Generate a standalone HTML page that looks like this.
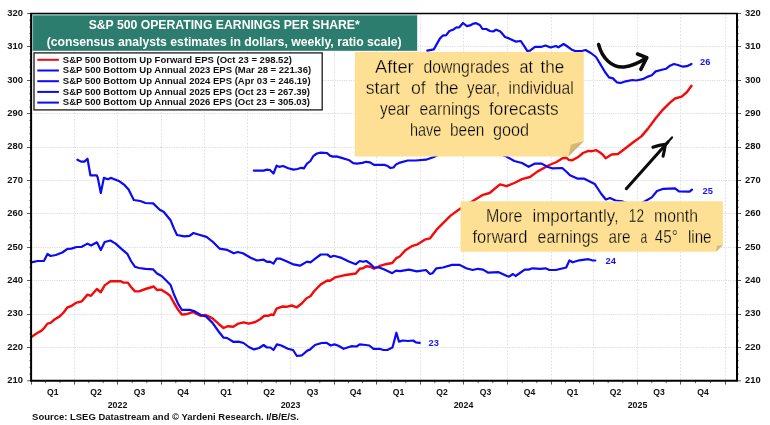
<!DOCTYPE html>
<html><head><meta charset="utf-8"><title>S&amp;P 500 Operating Earnings Per Share</title>
<style>
html,body{margin:0;padding:0;background:#fff;}
body{width:770px;height:425px;overflow:hidden;}
svg{display:block;filter:blur(0.35px);}
text{font-family:"Liberation Sans",sans-serif;}
.ax{font-size:9.4px;font-weight:bold;fill:#111;}
.lg{font-size:9.52px;font-weight:bold;fill:#111;}
.tt{font-size:12.22px;font-weight:bold;fill:#fff;}
.nt{font-size:17.5px;fill:#000;stroke:#fde093;stroke-width:0.3px;}
.lb{font-size:9.3px;font-weight:bold;fill:#1414f0;}
</style></head><body>
<svg width="770" height="425" viewBox="0 0 770 425">
<defs><linearGradient id="fold" x1="0" y1="0" x2="1" y2="1"><stop offset="0" stop-color="#dcc588"/><stop offset="1" stop-color="#bfa25a"/></linearGradient></defs>
<rect width="770" height="425" fill="#ffffff"/>
<g stroke="#dcdcdc" stroke-width="1" stroke-dasharray="1.2,1.1" fill="none"><line x1="31.1" y1="347.5" x2="737.0" y2="347.5"/><line x1="31.1" y1="314.5" x2="737.0" y2="314.5"/><line x1="31.1" y1="280.5" x2="737.0" y2="280.5"/><line x1="31.1" y1="247.5" x2="737.0" y2="247.5"/><line x1="31.1" y1="213.5" x2="737.0" y2="213.5"/><line x1="31.1" y1="180.5" x2="737.0" y2="180.5"/><line x1="31.1" y1="147.5" x2="737.0" y2="147.5"/><line x1="31.1" y1="113.5" x2="737.0" y2="113.5"/><line x1="31.1" y1="80.5" x2="737.0" y2="80.5"/><line x1="31.1" y1="46.5" x2="737.0" y2="46.5"/></g>
<g stroke="#e1e1e1" stroke-width="1" stroke-dasharray="1.8,1.6" fill="none"><line x1="74.5" y1="13.6" x2="74.5" y2="380.8"/><line x1="117.5" y1="13.6" x2="117.5" y2="380.8"/><line x1="161.5" y1="13.6" x2="161.5" y2="380.8"/><line x1="204.5" y1="13.6" x2="204.5" y2="380.8"/><line x1="247.5" y1="13.6" x2="247.5" y2="380.8"/><line x1="290.5" y1="13.6" x2="290.5" y2="380.8"/><line x1="334.5" y1="13.6" x2="334.5" y2="380.8"/><line x1="376.5" y1="13.6" x2="376.5" y2="380.8"/><line x1="420.5" y1="13.6" x2="420.5" y2="380.8"/><line x1="463.5" y1="13.6" x2="463.5" y2="380.8"/><line x1="507.5" y1="13.6" x2="507.5" y2="380.8"/><line x1="551.5" y1="13.6" x2="551.5" y2="380.8"/><line x1="593.5" y1="13.6" x2="593.5" y2="380.8"/><line x1="637.5" y1="13.6" x2="637.5" y2="380.8"/><line x1="680.5" y1="13.6" x2="680.5" y2="380.8"/><line x1="725.5" y1="13.6" x2="725.5" y2="380.8"/></g>
<g fill="none" stroke-linejoin="round" stroke-linecap="round" stroke-width="2.2"><path stroke="#f50a0a" stroke-width="2.4" d="M31.2,337.1 L37.7,332.7 L41.6,330.6 L44.2,328.0 L47.5,323.6 L50.6,322.9 L54.5,319.5 L59.7,316.4 L63.6,312.5 L67.5,307.3 L71.4,306.0 L76.6,302.6 L81.8,301.3 L87.5,294.6 L91.0,295.8 L96.9,289.0 L100.8,292.2 L104.7,285.4 L110.4,281.3 L120.8,281.3 L123.4,282.6 L127.8,282.6 L131.0,287.0 L135.0,291.4 L139.0,291.4 L145.5,289.0 L153.8,286.5 L157.0,290.0 L161.0,289.6 L166.2,292.7 L170.0,295.6 L174.0,303.0 L178.0,309.5 L181.8,314.5 L185.7,314.3 L193.0,312.2 L200.8,315.8 L206.0,315.0 L212.5,318.4 L219.0,324.2 L223.6,328.0 L228.0,326.2 L233.2,326.8 L238.4,323.6 L243.6,322.3 L248.8,323.6 L255.3,322.0 L260.5,319.0 L264.4,315.6 L268.3,315.8 L271.0,314.5 L273.5,315.0 L276.6,308.6 L282.6,306.5 L286.5,306.8 L291.7,305.5 L296.9,307.3 L302.0,303.2 L306.5,298.2 L310.4,296.2 L314.3,291.0 L320.8,284.4 L327.3,280.5 L330.0,280.8 L335.0,277.4 L344.0,275.3 L355.8,273.5 L359.7,268.8 L363.0,268.3 L366.2,266.2 L370.0,266.8 L374.0,268.8 L379.2,266.2 L385.7,264.2 L392.2,263.0 L396.0,258.4 L400.0,256.2 L405.0,250.6 L411.7,246.2 L416.9,244.7 L424.7,239.7 L429.9,238.4 L436.4,229.9 L441.6,224.7 L450.6,215.6 L459.0,209.5 L475.3,199.5 L483.0,194.8 L489.6,193.0 L500.0,184.4 L506.5,186.2 L514.3,183.0 L522.0,179.2 L530.0,177.0 L537.7,171.4 L549.4,165.0 L556.6,162.0 L562.5,158.3 L566.2,157.8 L568.8,159.9 L572.0,160.4 L577.8,157.3 L583.0,153.0 L588.4,150.9 L592.0,151.2 L596.3,150.2 L600.0,152.5 L602.7,154.6 L605.6,158.2 L611.6,154.5 L618.0,154.0 L625.8,148.0 L633.6,142.0 L641.4,136.4 L648.0,128.6 L655.7,118.2 L662.2,110.4 L670.0,102.6 L675.0,98.5 L681.7,96.6 L687.0,92.0 L691.5,85.7"/><path stroke="#0a0af5" d="M31.2,262.3 L37.7,261.0 L44.0,260.8 L47.5,254.0 L50.6,256.0 L55.8,255.0 L62.3,252.5 L67.5,248.8 L71.4,248.6 L76.6,247.0 L81.8,246.8 L87.5,243.6 L91.0,245.5 L96.9,242.3 L100.8,250.0 L104.7,242.0 L110.4,240.5 L115.6,243.6 L122.0,249.4 L127.3,253.8 L131.0,261.0 L135.0,266.8 L139.0,268.0 L145.5,268.8 L153.2,269.4 L157.0,273.5 L161.6,276.0 L166.2,280.5 L170.6,285.0 L174.0,294.5 L178.0,303.6 L181.8,309.8 L189.6,309.9 L194.8,311.4 L200.8,315.0 L206.0,316.4 L212.5,322.9 L219.0,332.0 L223.6,337.7 L226.8,337.9 L233.2,341.8 L238.4,341.6 L243.6,343.0 L248.8,347.0 L254.0,349.4 L259.2,348.0 L263.6,345.0 L267.0,347.5 L270.4,347.5 L273.5,350.0 L276.9,344.4 L281.3,345.5 L287.8,348.8 L293.0,350.0 L296.9,356.0 L302.0,355.3 L307.3,350.6 L309.9,349.6 L315.0,345.0 L321.6,343.0 L326.8,342.9 L330.6,345.5 L334.5,344.4 L338.4,345.7 L343.6,348.8 L351.4,346.2 L356.6,346.5 L359.7,344.4 L365.7,345.0 L369.3,345.5 L373.5,348.8 L379.5,348.8 L383.4,350.0 L387.3,350.0 L392.5,347.5 L396.4,332.7 L399.0,341.6 L402.9,340.5 L408.0,341.0 L413.2,340.5 L415.8,342.3 L419.7,342.9"/><path stroke="#0a0af5" d="M77.4,159.7 L81.0,161.6 L84.4,161.6 L87.5,158.7 L90.4,175.3 L96.6,175.3 L97.7,177.4 L100.8,193.0 L103.9,177.9 L107.8,179.2 L111.2,177.9 L115.6,179.7 L119.5,181.3 L124.7,185.2 L128.6,189.6 L133.8,200.0 L140.3,201.0 L145.5,203.0 L153.2,203.4 L159.7,209.8 L163.6,211.7 L170.6,220.3 L174.0,228.6 L177.0,235.0 L184.4,236.4 L189.6,235.8 L193.5,233.0 L200.0,235.0 L206.5,236.9 L213.0,242.0 L219.5,248.6 L227.3,249.9 L233.8,253.2 L237.7,252.0 L242.9,253.2 L250.6,257.7 L257.0,260.5 L263.6,259.7 L267.0,261.8 L270.0,261.6 L273.5,263.6 L276.6,258.7 L280.5,258.7 L287.0,261.6 L293.5,264.4 L300.0,265.7 L307.0,261.6 L310.4,262.3 L315.6,258.4 L320.8,254.5 L327.3,254.5 L330.6,257.0 L333.8,255.8 L341.6,257.9 L349.4,261.8 L355.8,264.2 L359.7,261.0 L363.0,261.8 L366.2,261.0 L370.0,263.6 L374.0,267.5 L379.2,267.5 L384.4,269.6 L392.2,273.2 L396.0,270.6 L400.0,271.2 L409.0,269.6 L416.9,271.4 L426.0,270.0 L429.9,274.0 L432.5,273.2 L436.4,268.3 L442.9,267.5 L452.0,264.9 L459.7,264.9 L466.2,268.3 L472.7,270.0 L478.0,268.8 L483.0,269.6 L488.3,272.7 L498.7,272.2 L507.0,276.0 L509.0,276.6 L513.0,274.0 L515.6,276.0 L524.7,269.6 L528.6,269.6 L532.5,268.3 L540.3,268.8 L545.5,268.3 L549.4,270.0 L555.8,270.0 L566.2,267.5 L569.4,260.5 L572.7,262.3 L579.2,260.3 L588.3,259.2 L592.2,260.3 L595.3,260.5"/><path stroke="#0a0af5" d="M253.8,170.6 L263.6,170.6 L267.0,169.6 L270.0,170.0 L273.5,173.5 L276.6,165.7 L279.2,166.8 L283.0,166.0 L288.3,168.3 L293.5,169.6 L297.4,169.0 L301.3,167.8 L303.9,168.3 L307.0,163.6 L310.4,161.0 L313.5,155.8 L316.9,153.5 L320.8,152.7 L327.3,153.2 L329.9,155.6 L333.0,156.6 L336.4,156.4 L341.6,157.9 L349.4,160.3 L353.2,163.1 L357.0,163.6 L362.3,162.9 L366.2,161.8 L370.0,162.3 L374.0,164.9 L384.4,164.9 L387.0,165.7 L390.4,168.0 L393.5,167.5 L396.0,164.4 L400.0,162.6 L407.8,160.5 L415.6,160.5 L426.0,159.7 L433.8,157.0 L440.0,154.0 L450.0,151.0 L470.0,149.0 L490.0,151.0 L500.0,154.0 L506.5,156.6 L514.3,161.0 L522.0,163.0 L528.6,166.8 L535.0,163.6 L541.6,163.6 L548.0,167.0 L552.0,168.3 L562.3,168.0 L567.5,172.7 L570.0,175.3 L577.8,178.7 L584.3,178.7 L594.7,183.9 L601.0,193.5 L605.8,199.5 L610.0,198.0 L615.5,200.5 L622.0,201.3 L628.0,204.0 L634.0,205.0 L640.0,204.0 L645.0,201.3 L651.8,197.4 L657.0,191.0 L663.5,188.8 L675.0,188.3 L679.0,191.4 L689.5,191.7 L692.0,189.6"/><path stroke="#0a0af5" d="M427.3,50.6 L433.8,49.4 L440.0,38.4 L442.7,35.7 L446.2,35.1 L449.4,31.0 L452.9,29.8 L456.4,27.3 L459.1,27.5 L463.0,23.0 L466.9,26.1 L470.0,25.4 L473.5,23.6 L476.2,23.2 L479.8,25.0 L482.5,29.0 L486.4,29.0 L489.9,31.0 L493.0,31.5 L496.1,29.7 L500.0,31.2 L501.5,32.7 L505.0,37.0 L509.0,38.4 L515.6,41.6 L520.8,41.0 L524.7,46.8 L527.3,51.0 L530.0,50.6 L535.0,46.8 L541.6,46.8 L545.5,45.5 L550.6,47.5 L555.8,46.0 L558.4,47.3 L563.6,44.0 L566.0,45.5 L571.4,49.4 L575.0,51.0 L581.7,51.0 L585.6,50.0 L590.8,53.0 L596.0,57.0 L600.0,63.6 L605.0,72.0 L609.0,77.4 L612.9,78.4 L616.8,82.3 L620.6,83.0 L625.8,81.3 L632.3,80.0 L636.2,80.5 L642.7,79.2 L648.0,76.6 L651.8,75.3 L655.7,71.4 L661.0,70.0 L666.0,68.8 L670.0,65.7 L674.0,64.0 L677.8,65.0 L683.0,66.7 L686.9,66.2 L691.5,63.9"/></g>
<g stroke="#444" stroke-width="0.9"><line x1="27.1" y1="380.8" x2="31.1" y2="380.8"/><line x1="737.0" y1="380.8" x2="741.0" y2="380.8"/><line x1="29.3" y1="374.1" x2="31.1" y2="374.1" stroke-width="0.7"/><line x1="737.0" y1="374.1" x2="738.8" y2="374.1" stroke-width="0.8"/><line x1="29.3" y1="367.4" x2="31.1" y2="367.4" stroke-width="0.7"/><line x1="737.0" y1="367.4" x2="738.8" y2="367.4" stroke-width="0.8"/><line x1="29.3" y1="360.8" x2="31.1" y2="360.8" stroke-width="0.7"/><line x1="737.0" y1="360.8" x2="738.8" y2="360.8" stroke-width="0.8"/><line x1="29.3" y1="354.1" x2="31.1" y2="354.1" stroke-width="0.7"/><line x1="737.0" y1="354.1" x2="738.8" y2="354.1" stroke-width="0.8"/><line x1="27.1" y1="347.5" x2="31.1" y2="347.5"/><line x1="737.0" y1="347.5" x2="741.0" y2="347.5"/><line x1="29.3" y1="340.7" x2="31.1" y2="340.7" stroke-width="0.7"/><line x1="737.0" y1="340.7" x2="738.8" y2="340.7" stroke-width="0.8"/><line x1="29.3" y1="334.1" x2="31.1" y2="334.1" stroke-width="0.7"/><line x1="737.0" y1="334.1" x2="738.8" y2="334.1" stroke-width="0.8"/><line x1="29.3" y1="327.4" x2="31.1" y2="327.4" stroke-width="0.7"/><line x1="737.0" y1="327.4" x2="738.8" y2="327.4" stroke-width="0.8"/><line x1="29.3" y1="320.7" x2="31.1" y2="320.7" stroke-width="0.7"/><line x1="737.0" y1="320.7" x2="738.8" y2="320.7" stroke-width="0.8"/><line x1="27.1" y1="314.5" x2="31.1" y2="314.5"/><line x1="737.0" y1="314.5" x2="741.0" y2="314.5"/><line x1="29.3" y1="307.4" x2="31.1" y2="307.4" stroke-width="0.7"/><line x1="737.0" y1="307.4" x2="738.8" y2="307.4" stroke-width="0.8"/><line x1="29.3" y1="300.7" x2="31.1" y2="300.7" stroke-width="0.7"/><line x1="737.0" y1="300.7" x2="738.8" y2="300.7" stroke-width="0.8"/><line x1="29.3" y1="294.0" x2="31.1" y2="294.0" stroke-width="0.7"/><line x1="737.0" y1="294.0" x2="738.8" y2="294.0" stroke-width="0.8"/><line x1="29.3" y1="287.3" x2="31.1" y2="287.3" stroke-width="0.7"/><line x1="737.0" y1="287.3" x2="738.8" y2="287.3" stroke-width="0.8"/><line x1="27.1" y1="280.5" x2="31.1" y2="280.5"/><line x1="737.0" y1="280.5" x2="741.0" y2="280.5"/><line x1="29.3" y1="274.0" x2="31.1" y2="274.0" stroke-width="0.7"/><line x1="737.0" y1="274.0" x2="738.8" y2="274.0" stroke-width="0.8"/><line x1="29.3" y1="267.3" x2="31.1" y2="267.3" stroke-width="0.7"/><line x1="737.0" y1="267.3" x2="738.8" y2="267.3" stroke-width="0.8"/><line x1="29.3" y1="260.6" x2="31.1" y2="260.6" stroke-width="0.7"/><line x1="737.0" y1="260.6" x2="738.8" y2="260.6" stroke-width="0.8"/><line x1="29.3" y1="253.9" x2="31.1" y2="253.9" stroke-width="0.7"/><line x1="737.0" y1="253.9" x2="738.8" y2="253.9" stroke-width="0.8"/><line x1="27.1" y1="247.5" x2="31.1" y2="247.5"/><line x1="737.0" y1="247.5" x2="741.0" y2="247.5"/><line x1="29.3" y1="240.6" x2="31.1" y2="240.6" stroke-width="0.7"/><line x1="737.0" y1="240.6" x2="738.8" y2="240.6" stroke-width="0.8"/><line x1="29.3" y1="233.9" x2="31.1" y2="233.9" stroke-width="0.7"/><line x1="737.0" y1="233.9" x2="738.8" y2="233.9" stroke-width="0.8"/><line x1="29.3" y1="227.2" x2="31.1" y2="227.2" stroke-width="0.7"/><line x1="737.0" y1="227.2" x2="738.8" y2="227.2" stroke-width="0.8"/><line x1="29.3" y1="220.6" x2="31.1" y2="220.6" stroke-width="0.7"/><line x1="737.0" y1="220.6" x2="738.8" y2="220.6" stroke-width="0.8"/><line x1="27.1" y1="213.5" x2="31.1" y2="213.5"/><line x1="737.0" y1="213.5" x2="741.0" y2="213.5"/><line x1="29.3" y1="207.2" x2="31.1" y2="207.2" stroke-width="0.7"/><line x1="737.0" y1="207.2" x2="738.8" y2="207.2" stroke-width="0.8"/><line x1="29.3" y1="200.5" x2="31.1" y2="200.5" stroke-width="0.7"/><line x1="737.0" y1="200.5" x2="738.8" y2="200.5" stroke-width="0.8"/><line x1="29.3" y1="193.9" x2="31.1" y2="193.9" stroke-width="0.7"/><line x1="737.0" y1="193.9" x2="738.8" y2="193.9" stroke-width="0.8"/><line x1="29.3" y1="187.2" x2="31.1" y2="187.2" stroke-width="0.7"/><line x1="737.0" y1="187.2" x2="738.8" y2="187.2" stroke-width="0.8"/><line x1="27.1" y1="180.5" x2="31.1" y2="180.5"/><line x1="737.0" y1="180.5" x2="741.0" y2="180.5"/><line x1="29.3" y1="173.8" x2="31.1" y2="173.8" stroke-width="0.7"/><line x1="737.0" y1="173.8" x2="738.8" y2="173.8" stroke-width="0.8"/><line x1="29.3" y1="167.2" x2="31.1" y2="167.2" stroke-width="0.7"/><line x1="737.0" y1="167.2" x2="738.8" y2="167.2" stroke-width="0.8"/><line x1="29.3" y1="160.5" x2="31.1" y2="160.5" stroke-width="0.7"/><line x1="737.0" y1="160.5" x2="738.8" y2="160.5" stroke-width="0.8"/><line x1="29.3" y1="153.8" x2="31.1" y2="153.8" stroke-width="0.7"/><line x1="737.0" y1="153.8" x2="738.8" y2="153.8" stroke-width="0.8"/><line x1="27.1" y1="147.5" x2="31.1" y2="147.5"/><line x1="737.0" y1="147.5" x2="741.0" y2="147.5"/><line x1="29.3" y1="140.5" x2="31.1" y2="140.5" stroke-width="0.7"/><line x1="737.0" y1="140.5" x2="738.8" y2="140.5" stroke-width="0.8"/><line x1="29.3" y1="133.8" x2="31.1" y2="133.8" stroke-width="0.7"/><line x1="737.0" y1="133.8" x2="738.8" y2="133.8" stroke-width="0.8"/><line x1="29.3" y1="127.1" x2="31.1" y2="127.1" stroke-width="0.7"/><line x1="737.0" y1="127.1" x2="738.8" y2="127.1" stroke-width="0.8"/><line x1="29.3" y1="120.4" x2="31.1" y2="120.4" stroke-width="0.7"/><line x1="737.0" y1="120.4" x2="738.8" y2="120.4" stroke-width="0.8"/><line x1="27.1" y1="113.5" x2="31.1" y2="113.5"/><line x1="737.0" y1="113.5" x2="741.0" y2="113.5"/><line x1="29.3" y1="107.1" x2="31.1" y2="107.1" stroke-width="0.7"/><line x1="737.0" y1="107.1" x2="738.8" y2="107.1" stroke-width="0.8"/><line x1="29.3" y1="100.4" x2="31.1" y2="100.4" stroke-width="0.7"/><line x1="737.0" y1="100.4" x2="738.8" y2="100.4" stroke-width="0.8"/><line x1="29.3" y1="93.7" x2="31.1" y2="93.7" stroke-width="0.7"/><line x1="737.0" y1="93.7" x2="738.8" y2="93.7" stroke-width="0.8"/><line x1="29.3" y1="87.0" x2="31.1" y2="87.0" stroke-width="0.7"/><line x1="737.0" y1="87.0" x2="738.8" y2="87.0" stroke-width="0.8"/><line x1="27.1" y1="80.5" x2="31.1" y2="80.5"/><line x1="737.0" y1="80.5" x2="741.0" y2="80.5"/><line x1="29.3" y1="73.7" x2="31.1" y2="73.7" stroke-width="0.7"/><line x1="737.0" y1="73.7" x2="738.8" y2="73.7" stroke-width="0.8"/><line x1="29.3" y1="67.0" x2="31.1" y2="67.0" stroke-width="0.7"/><line x1="737.0" y1="67.0" x2="738.8" y2="67.0" stroke-width="0.8"/><line x1="29.3" y1="60.3" x2="31.1" y2="60.3" stroke-width="0.7"/><line x1="737.0" y1="60.3" x2="738.8" y2="60.3" stroke-width="0.8"/><line x1="29.3" y1="53.7" x2="31.1" y2="53.7" stroke-width="0.7"/><line x1="737.0" y1="53.7" x2="738.8" y2="53.7" stroke-width="0.8"/><line x1="27.1" y1="46.5" x2="31.1" y2="46.5"/><line x1="737.0" y1="46.5" x2="741.0" y2="46.5"/><line x1="29.3" y1="40.3" x2="31.1" y2="40.3" stroke-width="0.7"/><line x1="737.0" y1="40.3" x2="738.8" y2="40.3" stroke-width="0.8"/><line x1="29.3" y1="33.6" x2="31.1" y2="33.6" stroke-width="0.7"/><line x1="737.0" y1="33.6" x2="738.8" y2="33.6" stroke-width="0.8"/><line x1="29.3" y1="27.0" x2="31.1" y2="27.0" stroke-width="0.7"/><line x1="737.0" y1="27.0" x2="738.8" y2="27.0" stroke-width="0.8"/><line x1="29.3" y1="20.3" x2="31.1" y2="20.3" stroke-width="0.7"/><line x1="737.0" y1="20.3" x2="738.8" y2="20.3" stroke-width="0.8"/><line x1="27.1" y1="13.6" x2="31.1" y2="13.6"/><line x1="737.0" y1="13.6" x2="741.0" y2="13.6"/><line x1="31.5" y1="380.8" x2="31.5" y2="384.6"/><line x1="45.6" y1="380.8" x2="45.6" y2="383.2" stroke-width="0.8"/><line x1="60.0" y1="380.8" x2="60.0" y2="383.2" stroke-width="0.8"/><line x1="74.5" y1="380.8" x2="74.5" y2="384.6"/><line x1="88.8" y1="380.8" x2="88.8" y2="383.2" stroke-width="0.8"/><line x1="103.2" y1="380.8" x2="103.2" y2="383.2" stroke-width="0.8"/><line x1="117.5" y1="380.8" x2="117.5" y2="384.6"/><line x1="132.2" y1="380.8" x2="132.2" y2="383.2" stroke-width="0.8"/><line x1="146.8" y1="380.8" x2="146.8" y2="383.2" stroke-width="0.8"/><line x1="161.5" y1="380.8" x2="161.5" y2="384.6"/><line x1="175.8" y1="380.8" x2="175.8" y2="383.2" stroke-width="0.8"/><line x1="190.2" y1="380.8" x2="190.2" y2="383.2" stroke-width="0.8"/><line x1="204.5" y1="380.8" x2="204.5" y2="384.6"/><line x1="218.8" y1="380.8" x2="218.8" y2="383.2" stroke-width="0.8"/><line x1="233.2" y1="380.8" x2="233.2" y2="383.2" stroke-width="0.8"/><line x1="247.5" y1="380.8" x2="247.5" y2="384.6"/><line x1="261.8" y1="380.8" x2="261.8" y2="383.2" stroke-width="0.8"/><line x1="276.2" y1="380.8" x2="276.2" y2="383.2" stroke-width="0.8"/><line x1="290.5" y1="380.8" x2="290.5" y2="384.6"/><line x1="305.2" y1="380.8" x2="305.2" y2="383.2" stroke-width="0.8"/><line x1="319.8" y1="380.8" x2="319.8" y2="383.2" stroke-width="0.8"/><line x1="334.5" y1="380.8" x2="334.5" y2="384.6"/><line x1="348.5" y1="380.8" x2="348.5" y2="383.2" stroke-width="0.8"/><line x1="362.5" y1="380.8" x2="362.5" y2="383.2" stroke-width="0.8"/><line x1="376.5" y1="380.8" x2="376.5" y2="384.6"/><line x1="391.2" y1="380.8" x2="391.2" y2="383.2" stroke-width="0.8"/><line x1="405.8" y1="380.8" x2="405.8" y2="383.2" stroke-width="0.8"/><line x1="420.5" y1="380.8" x2="420.5" y2="384.6"/><line x1="434.8" y1="380.8" x2="434.8" y2="383.2" stroke-width="0.8"/><line x1="449.2" y1="380.8" x2="449.2" y2="383.2" stroke-width="0.8"/><line x1="463.5" y1="380.8" x2="463.5" y2="384.6"/><line x1="478.2" y1="380.8" x2="478.2" y2="383.2" stroke-width="0.8"/><line x1="492.8" y1="380.8" x2="492.8" y2="383.2" stroke-width="0.8"/><line x1="507.5" y1="380.8" x2="507.5" y2="384.6"/><line x1="522.2" y1="380.8" x2="522.2" y2="383.2" stroke-width="0.8"/><line x1="536.8" y1="380.8" x2="536.8" y2="383.2" stroke-width="0.8"/><line x1="551.5" y1="380.8" x2="551.5" y2="384.6"/><line x1="565.5" y1="380.8" x2="565.5" y2="383.2" stroke-width="0.8"/><line x1="579.5" y1="380.8" x2="579.5" y2="383.2" stroke-width="0.8"/><line x1="593.5" y1="380.8" x2="593.5" y2="384.6"/><line x1="608.2" y1="380.8" x2="608.2" y2="383.2" stroke-width="0.8"/><line x1="622.8" y1="380.8" x2="622.8" y2="383.2" stroke-width="0.8"/><line x1="637.5" y1="380.8" x2="637.5" y2="384.6"/><line x1="651.8" y1="380.8" x2="651.8" y2="383.2" stroke-width="0.8"/><line x1="666.2" y1="380.8" x2="666.2" y2="383.2" stroke-width="0.8"/><line x1="680.5" y1="380.8" x2="680.5" y2="384.6"/><line x1="695.5" y1="380.8" x2="695.5" y2="383.2" stroke-width="0.8"/><line x1="710.5" y1="380.8" x2="710.5" y2="383.2" stroke-width="0.8"/><line x1="725.5" y1="380.8" x2="725.5" y2="384.6"/></g>
<path d="M30.1,13.6 L738.0,13.6" stroke="#000" stroke-width="1.5" fill="none"/><path d="M31.1,13.6 L31.1,380.8 L737.0,380.8 L737.0,13.6" stroke="#000" stroke-width="2" fill="none"/>
<text class="ax" x="23" y="383.1" text-anchor="end">210</text><text class="ax" x="745" y="383.1">210</text><text class="ax" x="23" y="349.7" text-anchor="end">220</text><text class="ax" x="745" y="349.7">220</text><text class="ax" x="23" y="316.3" text-anchor="end">230</text><text class="ax" x="745" y="316.3">230</text><text class="ax" x="23" y="283.0" text-anchor="end">240</text><text class="ax" x="745" y="283.0">240</text><text class="ax" x="23" y="249.6" text-anchor="end">250</text><text class="ax" x="745" y="249.6">250</text><text class="ax" x="23" y="216.2" text-anchor="end">260</text><text class="ax" x="745" y="216.2">260</text><text class="ax" x="23" y="182.8" text-anchor="end">270</text><text class="ax" x="745" y="182.8">270</text><text class="ax" x="23" y="149.4" text-anchor="end">280</text><text class="ax" x="745" y="149.4">280</text><text class="ax" x="23" y="116.0" text-anchor="end">290</text><text class="ax" x="745" y="116.0">290</text><text class="ax" x="23" y="82.7" text-anchor="end">300</text><text class="ax" x="745" y="82.7">300</text><text class="ax" x="23" y="49.3" text-anchor="end">310</text><text class="ax" x="745" y="49.3">310</text><text class="ax" x="23" y="15.9" text-anchor="end">320</text><text class="ax" x="745" y="15.9">320</text>
<text class="ax" x="52.8" y="394.9" text-anchor="middle" style="font-size:8.6px">Q1</text><text class="ax" x="96.0" y="394.9" text-anchor="middle" style="font-size:8.6px">Q2</text><text class="ax" x="139.5" y="394.9" text-anchor="middle" style="font-size:8.6px">Q3</text><text class="ax" x="183.0" y="394.9" text-anchor="middle" style="font-size:8.6px">Q4</text><text class="ax" x="226.0" y="394.9" text-anchor="middle" style="font-size:8.6px">Q1</text><text class="ax" x="269.0" y="394.9" text-anchor="middle" style="font-size:8.6px">Q2</text><text class="ax" x="312.5" y="394.9" text-anchor="middle" style="font-size:8.6px">Q3</text><text class="ax" x="355.5" y="394.9" text-anchor="middle" style="font-size:8.6px">Q4</text><text class="ax" x="398.5" y="394.9" text-anchor="middle" style="font-size:8.6px">Q1</text><text class="ax" x="442.0" y="394.9" text-anchor="middle" style="font-size:8.6px">Q2</text><text class="ax" x="485.5" y="394.9" text-anchor="middle" style="font-size:8.6px">Q3</text><text class="ax" x="529.5" y="394.9" text-anchor="middle" style="font-size:8.6px">Q4</text><text class="ax" x="572.5" y="394.9" text-anchor="middle" style="font-size:8.6px">Q1</text><text class="ax" x="615.5" y="394.9" text-anchor="middle" style="font-size:8.6px">Q2</text><text class="ax" x="659.0" y="394.9" text-anchor="middle" style="font-size:8.6px">Q3</text><text class="ax" x="703.0" y="394.9" text-anchor="middle" style="font-size:8.6px">Q4</text><text class="ax" x="117.5" y="408.3" text-anchor="middle" style="font-size:8.8px">2022</text><text class="ax" x="290.5" y="408.3" text-anchor="middle" style="font-size:8.8px">2023</text><text class="ax" x="463.5" y="408.3" text-anchor="middle" style="font-size:8.8px">2024</text><text class="ax" x="637.5" y="408.3" text-anchor="middle" style="font-size:8.8px">2025</text>
<text class="ax" x="32.1" y="420.4" style="font-size:9.47px">Source: LSEG Datastream and © Yardeni Research. I/B/E/S.</text>
<rect x="32" y="14.4" width="385.2" height="36.4" fill="#2d7d6f"/><path d="M32.6,50.8 L32.6,15.1 L417.2,15.1" fill="none" stroke="#9cc9c0" stroke-width="0.9"/><text class="tt" x="224.2" y="28.9" text-anchor="middle">S&amp;P 500 OPERATING EARNINGS PER SHARE*</text><text class="tt" x="224.2" y="46.3" text-anchor="middle">(consensus analysts estimates in dollars, weekly, ratio scale)</text>
<rect x="34" y="52.9" width="288.2" height="57" fill="#fff" stroke="#2a2a2a" stroke-width="1.4"/><line x1="37.3" y1="59.8" x2="58.9" y2="59.8" stroke="#f50a0a" stroke-width="2"/><text class="lg" x="62.8" y="62.5">S&amp;P 500 Bottom Up Forward EPS (Oct 23 = 298.52)</text><line x1="37.3" y1="70.5" x2="58.9" y2="70.5" stroke="#0a0af5" stroke-width="2"/><text class="lg" x="62.8" y="73.2">S&amp;P 500 Bottom Up Annual 2023 EPS (Mar 28 = 221.36)</text><line x1="37.3" y1="81.2" x2="58.9" y2="81.2" stroke="#0a0af5" stroke-width="2"/><text class="lg" x="62.8" y="83.9">S&amp;P 500 Bottom Up Annual 2024 EPS (Apr 03 = 246.19)</text><line x1="37.3" y1="91.9" x2="58.9" y2="91.9" stroke="#0a0af5" stroke-width="2"/><text class="lg" x="62.8" y="94.6">S&amp;P 500 Bottom Up Annual 2025 EPS (Oct 23 = 267.39)</text><line x1="37.3" y1="102.6" x2="58.9" y2="102.6" stroke="#0a0af5" stroke-width="2"/><text class="lg" x="62.8" y="105.3">S&amp;P 500 Bottom Up Annual 2026 EPS (Oct 23 = 305.03)</text>
<text class="lb" x="700" y="64.9">26</text><text class="lb" x="702.6" y="193.5">25</text><text class="lb" x="605.6" y="264.4">24</text><text class="lb" x="428.6" y="346.4">23</text>
<path d="M354.8,52 L583.8,52 L583.8,141.2 L568.4,156.5 L354.8,156.5 Z" fill="#fde093"/><path d="M568.4,156.5 L570.9,144.6 L583.8,141.2 Z" fill="url(#fold)"/><text class="nt" y="73"><tspan x="375.1" textLength="38.6" lengthAdjust="spacingAndGlyphs">After</tspan> <tspan x="423.4" textLength="86.0" lengthAdjust="spacingAndGlyphs">downgrades</tspan> <tspan x="519.4" textLength="13.5" lengthAdjust="spacingAndGlyphs">at</tspan> <tspan x="540.6" textLength="23.7" lengthAdjust="spacingAndGlyphs">the</tspan></text><text class="nt" y="93.9"><tspan x="365.7" textLength="34.3" lengthAdjust="spacingAndGlyphs">start</tspan> <tspan x="410.9" textLength="14.8" lengthAdjust="spacingAndGlyphs">of</tspan> <tspan x="434.9" textLength="23.7" lengthAdjust="spacingAndGlyphs">the</tspan> <tspan x="467.1" textLength="32.9" lengthAdjust="spacingAndGlyphs">year,</tspan> <tspan x="508.6" textLength="65.1" lengthAdjust="spacingAndGlyphs">individual</tspan></text><text class="nt" y="115"><tspan x="380.0" textLength="30.0" lengthAdjust="spacingAndGlyphs">year</tspan> <tspan x="419.4" textLength="60.6" lengthAdjust="spacingAndGlyphs">earnings</tspan> <tspan x="489.1" textLength="69.5" lengthAdjust="spacingAndGlyphs">forecasts</tspan></text><text class="nt" y="136.2"><tspan x="410.0" textLength="31.4" lengthAdjust="spacingAndGlyphs">have</tspan> <tspan x="450.0" textLength="34.3" lengthAdjust="spacingAndGlyphs">been</tspan> <tspan x="492.9" textLength="36.2" lengthAdjust="spacingAndGlyphs">good</tspan></text>
<path d="M460.5,201.3 L722.9,201.3 L722.9,245 L716,251.7 L460.5,251.7 Z" fill="#fde093"/><path d="M716,251.7 L717,245.8 L722.9,245 Z" fill="url(#fold)"/><text class="nt" y="222.3"><tspan x="485.9" textLength="36.5" lengthAdjust="spacingAndGlyphs">More</tspan> <tspan x="532.5" textLength="86.1" lengthAdjust="spacingAndGlyphs">importantly,</tspan> <tspan x="628.8" textLength="15.2" lengthAdjust="spacingAndGlyphs">12</tspan> <tspan x="654.1" textLength="43.9" lengthAdjust="spacingAndGlyphs">month</tspan></text><text class="nt" y="243"><tspan x="472.4" textLength="55.1" lengthAdjust="spacingAndGlyphs">forward</tspan> <tspan x="537.6" textLength="60.8" lengthAdjust="spacingAndGlyphs">earnings</tspan> <tspan x="608.5" textLength="22.0" lengthAdjust="spacingAndGlyphs">are</tspan> <tspan x="640.6" textLength="6.7" lengthAdjust="spacingAndGlyphs">a</tspan> <tspan x="654.8" textLength="22.9" lengthAdjust="spacingAndGlyphs">45°</tspan> <tspan x="687.9" textLength="23.6" lengthAdjust="spacingAndGlyphs">line</tspan></text>
<g fill="none" stroke="#0c0c0c" stroke-width="3.5" stroke-linecap="round" stroke-linejoin="round"><path d="M598.6,44.5 C602,58 612,68 624,67 C634,66 641,61.5 646.6,57.8"/><path d="M637.5,54 L646.8,57.6 L640.8,69.4"/><path stroke-width="3.1" d="M626.3,188.7 L668,142"/><path stroke-width="2.2" d="M666,144 L672,137.4"/><path stroke-width="3.1" d="M652.9,147.3 Q659,145 665.4,144.4 Q664.6,150 663.1,156.2"/></g>
</svg></body></html>
